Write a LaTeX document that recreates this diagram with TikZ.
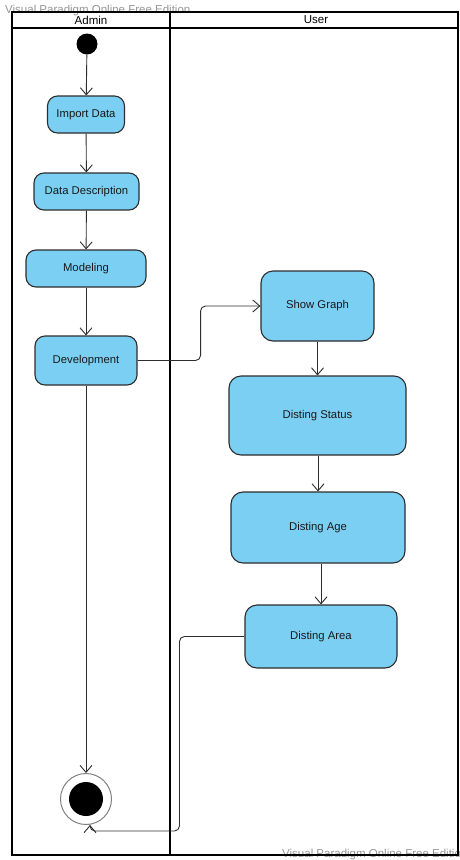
\documentclass[tikz,border=0pt]{standalone}
\usepackage{fontspec}
\setmainfont{Liberation Sans}
\usetikzlibrary{arrows.meta}
\definecolor{actfill}{RGB}{122,207,243}
\definecolor{actline}{RGB}{45,45,45}
\definecolor{wmgray}{RGB}{150,150,150}

\begin{document}
\begin{tikzpicture}[x=1pt,y=-1pt,
    action/.style={draw=actline, fill=actfill, line width=1.1pt, rounded corners=10pt,
        inner sep=0pt, text=black!90, font=\fontsize{11.3}{13}\selectfont},
    flow/.style={draw=actline, line width=0.9pt, rounded corners=5pt,
        -{Straight Barb[length=7pt,width=12pt]}},
    lane/.style={line width=1.6pt},
    wm/.style={text=wmgray, inner sep=0pt, font=\fontsize{11.5}{13}\selectfont}]
    \useasboundingbox (0,0) rectangle (459,860);

    % Watermarks
    \node[wm, anchor=west] (wmtop) at (5,11) {Visual Paradigm Online Free Edition};
    \node[wm, anchor=west] (wmbot) at (282,855) {Visual Paradigm Online Free Edition};

    % Swimlanes
    \draw[lane] (12,12) rectangle (458,855);
    \draw[lane] (12,28) -- (458,28);
    \draw[lane] (170,12) -- (170,855);
    \node[font=\fontsize{11.5}{13}\selectfont] (admin) at (91,20) {Admin};
    \node[font=\fontsize{11.5}{13}\selectfont] (user) at (316,20) {User};

    % Initial and final nodes
    \node[circle, fill=black, minimum size=21pt, inner sep=0pt] (start) at (87,44) {};
    \node[circle, draw=gray, line width=1pt, minimum size=51pt, inner sep=0pt] (final) at (86,799) {};
    \fill (final) circle (17pt);

    % Admin actions
    \node[action, minimum width=77pt, minimum height=37pt] (import) at (86,114.5) {Import Data};
    \node[action, minimum width=105pt, minimum height=37pt] (desc) at (86.5,191.5) {Data Description};
    \node[action, minimum width=120pt, minimum height=37pt] (model) at (86,268.5) {Modeling};
    \node[action, minimum width=102pt, minimum height=49pt] (dev) at (86,360.5) {Development};

    % User actions
    \node[action, rounded corners=12pt, minimum width=113pt, minimum height=70pt] (graph) at (317.5,306) {Show Graph};
    \node[action, rounded corners=12pt, minimum width=177pt, minimum height=79pt] (status) at (317.5,415.5) {Disting Status};
    \node[action, rounded corners=12pt, minimum width=174pt, minimum height=71pt] (age) at (318,527.5) {Disting Age};
    \node[action, rounded corners=12pt, minimum width=152pt, minimum height=63pt] (area) at (321,636.5) {Disting Area};

    % Control flows
    \draw[flow] (start) -- (import);
    \draw[flow] (import) -- (desc);
    \draw[flow] (desc) -- (model);
    \draw[flow] (model) -- (dev);
    \draw[flow] (dev) -- (final);
    \draw[flow] (dev.east) -- ++(63,0) |- (graph.west);
    \draw[flow] (graph) -- (graph |- status.north);
    \draw[flow] (status.south -| age) -- (age);
    \draw[flow] (age.south -| area) -- (area);
    \coordinate (finin) at ([xshift=4pt]final.south);
    \draw[flow] (area.west) -- ++(-65,0) |- ([yshift=-6pt]finin) -- (finin);
\end{tikzpicture}
\end{document}
